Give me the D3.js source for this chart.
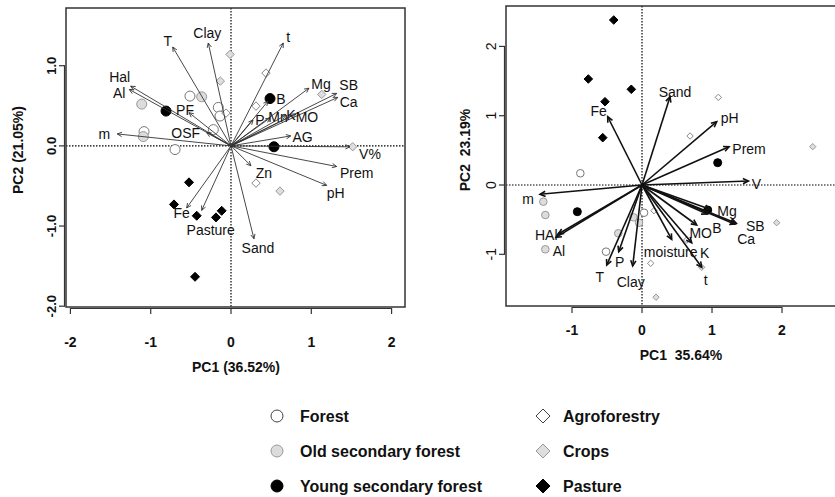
<!DOCTYPE html>
<html><head><meta charset="utf-8">
<script src="https://cdn.jsdelivr.net/npm/d3@7"></script>
<style>
body{margin:0;background:#fff}
svg{display:block;font-family:"Liberation Sans",Arial,Helvetica,sans-serif}
</style>
</head><body>
<svg id="chart" width="835" height="497"></svg>
<script>
// ---------- Panel A (PC1 36.52% / PC2 21.05%) ----------
const varsA      = ["T","Clay","Hal","Al","PF","m","OSF","t","Mg","SB","Ca","B","P","Mn","K","MO","AG","V%","Prem","pH","Zn","Sand","Fe","Pasture"];
const varsA_pc1  = [-0.726,-0.283,-1.249,-1.267,-0.523,-1.416,-0.303,0.651,0.971,1.316,1.329,0.461,0.274,0.486,0.685,0.809,0.743,1.482,1.316,1.192,0.249,0.286,-0.552,-0.365];
const varsA_pc2  = [1.233,1.283,0.745,0.704,0.414,0.149,0.165,1.283,0.720,0.655,0.605,0.559,0.323,0.348,0.385,0.398,0.124,-0.012,-0.257,-0.493,-0.248,-1.159,-0.774,-0.804];

const forestA_pc1   = [-0.511,-0.158,-0.137,-0.220,-0.697,-1.083];
const forestA_pc2   = [0.621,0.480,0.372,0.203,-0.046,0.178];
const oldSecA_pc1   = [-0.365,-1.112,-1.092];
const oldSecA_pc2   = [0.612,0.521,0.116];
const youngSecA_pc1 = [-0.809,0.486,0.535];
const youngSecA_pc2 = [0.434,0.590,-0.011];
const agroA_pc1     = [0.436,0.311,-0.062,0.311];
const agroA_pc2     = [0.908,0.496,0.409,-0.464];
const cropsA_pc1    = [-0.012,-0.133,1.130,1.516,0.610];
const cropsA_pc2    = [1.141,0.808,0.642,-0.011,-0.564];
const pastureA_pc1  = [-0.523,-0.710,-0.427,-0.187,-0.116,-0.448];
const pastureA_pc2  = [-0.455,-0.730,-0.872,-0.892,-0.810,-1.633];

const ticksA_x = [-2,-1,0,1,2];
const ticksA_y = [-2,-1,0,1];
const tickLabelsA_y = ["-2.0","-1.0","0.0","1.0"];

// ---------- Panel B (PC1 35.64% / PC2 23.19%) ----------
const varsB      = ["Fe","Sand","pH","Prem","V","Mg","SB","Ca","B","MO","K","moisture","t","Clay","P","T","HAl","Al","m"];
const varsB_pc1  = [-0.490,0.400,1.067,1.243,1.519,0.971,1.346,1.330,0.929,0.781,0.710,0.424,0.853,-0.133,-0.333,-0.504,-1.196,-1.229,-1.457];
const varsB_pc2  = [0.985,1.274,0.913,0.553,0.058,-0.351,-0.553,-0.565,-0.418,-0.577,-0.833,-0.784,-1.188,-1.169,-0.962,-1.154,-0.707,-0.755,-0.134];

const forestB_pc1   = [-0.881,-0.514,0.029];
const forestB_pc2   = [0.169,-0.962,-0.400];
const oldSecB_pc1   = [-1.410,-1.381,-1.381,-0.339,-0.124,-0.043];
const oldSecB_pc2   = [-0.241,-0.433,-0.928,-0.697,-0.466,-0.544];
const youngSecB_pc1 = [1.081,-0.924,0.939];
const youngSecB_pc2 = [0.322,-0.385,-0.361];
const agroB_pc1     = [1.090,0.686,0.124,0.638,0.171];
const agroB_pc2     = [1.265,0.707,-1.130,-0.794,-0.371];
const cropsB_pc1    = [2.439,1.924,0.200,0.853];
const cropsB_pc2    = [0.553,-0.544,-1.620,-1.188];
const pastureB_pc1  = [-0.404,-0.767,-0.153,-0.529,-0.561];
const pastureB_pc2  = [2.381,1.530,1.381,1.202,0.683];

const ticksB_x = [-1,0,1,2];
const ticksB_y = [-1,0,1,2];

// ---------- Legend ----------
const groups = ["Forest","Old secondary forest","Young secondary forest","Agroforestry","Crops","Pasture"];

// ---------- layout / styles ----------
const labelOffsetA = {
  "T":[-5,-6],"Clay":[-1,-10],"Hal":[-11,-9],"Al":[-10,4],"PF":[-4,-3],"m":[-13,0],"OSF":[-21,0],
  "t":[5,-6],"Mg":[12,-4],"SB":[12,-8],"Ca":[11,5],"B":[13,-2],"P":[7,0],"Mn":[8,-1],"K":[5,0],
  "MO":[11,3],"AG":[12,1],"V%":[20,7],"Prem":[20,7],"pH":[9,8],"Zn":[13,7],"Sand":[4,9],"Fe":[-5,5],"Pasture":[9,20]
};
const labelOffsetB = {
  "Fe":[-9,-6],"Sand":[5,-5],"pH":[13,-4],"Prem":[20,2],"V":[8,3],"Mg":[17,2],"SB":[19,3],"Ca":[11,15],
  "B":[10,14],"MO":[4,8],"K":[13,10],"moisture":[-1,13],"t":[4,13],"Clay":[-2,16],"P":[1,10],"T":[-7,12],
  "HAl":[-12,1],"Al":[3,14],"m":[-12,5]
};

const svg = d3.select("#chart");

const styles = {
  forest:   {shape:"circle", fill:"#ffffff", stroke:"#777"},
  oldSec:   {shape:"circle", fill:"#dcdcdc", stroke:"#999"},
  youngSec: {shape:"circle", fill:"#000",    stroke:"#000"},
  agro:     {shape:"diamond",fill:"#ffffff", stroke:"#888"},
  crops:    {shape:"diamond",fill:"#dedede", stroke:"#999"},
  pasture:  {shape:"diamond",fill:"#000",    stroke:"#000"}
};

function diamondPath(cx, cy, r){
  return `M${cx},${cy-r}L${cx+r},${cy}L${cx},${cy+r}L${cx-r},${cy}Z`;
}

function drawPoints(g, xs, ys, x, y, st, size){
  const pts = xs.map((v,i)=>({x:v,y:ys[i]}));
  if (st.shape === "circle"){
    g.selectAll(null).data(pts).join("circle")
      .attr("cx",d=>x(d.x)).attr("cy",d=>y(d.y))
      .attr("r", st.fill === "#000" ? size.cb : size.c)
      .attr("fill",st.fill).attr("stroke",st.stroke).attr("stroke-width",1);
  } else {
    g.selectAll(null).data(pts).join("path")
      .attr("d",d=>diamondPath(x(d.x),y(d.y), st.fill === "#000" ? size.db : size.d))
      .attr("fill",st.fill).attr("stroke",st.stroke).attr("stroke-width",1);
  }
}

function drawArrows(g, names, pc1, pc2, x, y, offsets, opt){
  const ox = x(0), oy = y(0);
  names.forEach((n,i)=>{
    const tx = x(pc1[i]), ty = y(pc2[i]);
    g.append("line").attr("x1",ox).attr("y1",oy).attr("x2",tx).attr("y2",ty)
      .attr("stroke",opt.color).attr("stroke-width",opt.width);
    const a = Math.atan2(ty-oy, tx-ox);
    const L = opt.head, s = Math.PI/7;
    g.append("path")
      .attr("d",`M${tx-L*Math.cos(a-s)},${ty-L*Math.sin(a-s)}L${tx},${ty}L${tx-L*Math.cos(a+s)},${ty-L*Math.sin(a+s)}`)
      .attr("fill","none").attr("stroke",opt.color).attr("stroke-width",opt.width);
    const off = offsets[n] || [0,0];
    g.append("text").attr("x",tx+off[0]).attr("y",ty+off[1])
      .attr("text-anchor","middle").attr("dominant-baseline","central")
      .attr("font-size",14).attr("fill","#111").text(n);
  });
}

function panel(cfg){
  const g = svg.append("g");
  const x = d3.scaleLinear().domain(cfg.xDom).range([cfg.left, cfg.right]);
  const y = d3.scaleLinear().domain(cfg.yDom).range([cfg.bottom, cfg.top]);

  const clipId = "clip"+cfg.id;
  svg.append("clipPath").attr("id",clipId).append("rect")
    .attr("x",cfg.left).attr("y",cfg.top).attr("width",cfg.right-cfg.left).attr("height",cfg.bottom-cfg.top);
  const inner = g.append("g").attr("clip-path",`url(#${clipId})`);

  // zero reference lines
  inner.append("line").attr("x1",cfg.left).attr("x2",cfg.right).attr("y1",y(0)).attr("y2",y(0))
    .attr("stroke","#000").attr("stroke-width",1.2).attr("stroke-dasharray","1.5,1.5");
  inner.append("line").attr("y1",cfg.top).attr("y2",cfg.bottom).attr("x1",x(0)).attr("x2",x(0))
    .attr("stroke","#000").attr("stroke-width",1.2).attr("stroke-dasharray","1.5,1.5");

  cfg.points.forEach(p => drawPoints(inner, p.xs, p.ys, x, y, styles[p.style], cfg.size));
  drawArrows(inner, cfg.vars, cfg.pc1, cfg.pc2, x, y, cfg.offsets, cfg.arrow);

  // frame
  g.append("rect").attr("x",cfg.left).attr("y",cfg.top)
    .attr("width",cfg.right-cfg.left).attr("height",cfg.bottom-cfg.top)
    .attr("fill","none").attr("stroke","#333").attr("stroke-width",1.5);

  // x axis
  const xa = g.append("g");
  xa.append("line").attr("x1",x(cfg.xTicks[0])).attr("x2",x(cfg.xTicks[cfg.xTicks.length-1]))
    .attr("y1",cfg.bottom+1.5).attr("y2",cfg.bottom+1.5).attr("stroke","#333").attr("stroke-width",1.2);
  cfg.xTicks.forEach(t=>{
    xa.append("line").attr("x1",x(t)).attr("x2",x(t)).attr("y1",cfg.bottom+1).attr("y2",cfg.bottom+7)
      .attr("stroke","#333").attr("stroke-width",1.2);
    xa.append("text").attr("x",x(t)).attr("y",cfg.xLabelY).attr("text-anchor","middle")
      .attr("dominant-baseline","central").attr("font-size",14).attr("font-weight","bold").attr("fill","#111")
      .text(t);
  });
  // y axis
  const ya = g.append("g");
  ya.append("line").attr("y1",y(cfg.yTicks[0])).attr("y2",y(cfg.yTicks[cfg.yTicks.length-1]))
    .attr("x1",cfg.left-1.5).attr("x2",cfg.left-1.5).attr("stroke","#333").attr("stroke-width",1.2);
  cfg.yTicks.forEach((t,i)=>{
    ya.append("line").attr("y1",y(t)).attr("y2",y(t)).attr("x1",cfg.left-1).attr("x2",cfg.left-7)
      .attr("stroke","#333").attr("stroke-width",1.2);
    ya.append("text").attr("transform",`translate(${cfg.yLabelX},${y(t)}) rotate(-90)`)
      .attr("text-anchor","middle").attr("dominant-baseline","central")
      .attr("font-size",cfg.yTickSize).attr("font-weight",cfg.yTickWeight).attr("fill","#111")
      .text(cfg.yTickLabels ? cfg.yTickLabels[i] : t);
  });
  // titles
  g.append("text").attr("x",cfg.xTitle[0]).attr("y",cfg.xTitle[1]).attr("text-anchor","middle")
    .attr("dominant-baseline","central").attr("font-size",14).attr("font-weight","bold").attr("fill","#111")
    .attr("xml:space","preserve").text(cfg.xTitle[2]);
  g.append("text").attr("transform",`translate(${cfg.yTitle[0]},${cfg.yTitle[1]}) rotate(-90)`)
    .attr("text-anchor","middle").attr("dominant-baseline","central")
    .attr("font-size",14).attr("font-weight","bold").attr("fill","#111")
    .attr("xml:space","preserve").text(cfg.yTitle[2]);
}

panel({
  id:"A", left:66, right:405, top:8, bottom:307,
  xDom:[-2.055,2.167], yDom:[-2.01,1.72],
  xTicks:ticksA_x, yTicks:ticksA_y, yTickLabels:tickLabelsA_y,
  xLabelY:342, yLabelX:51, yTickSize:13, yTickWeight:"bold",
  xTitle:[236,367,"PC1 (36.52%)"], yTitle:[18,150,"PC2 (21.05%)"],
  vars:varsA, pc1:varsA_pc1, pc2:varsA_pc2, offsets:labelOffsetA,
  arrow:{color:"#333", width:0.9, head:5},
  size:{c:5, cb:5, d:4.2, db:4.5},
  points:[
    {xs:forestA_pc1, ys:forestA_pc2, style:"forest"},
    {xs:oldSecA_pc1, ys:oldSecA_pc2, style:"oldSec"},
    {xs:agroA_pc1, ys:agroA_pc2, style:"agro"},
    {xs:cropsA_pc1, ys:cropsA_pc2, style:"crops"},
    {xs:pastureA_pc1, ys:pastureA_pc2, style:"pasture"},
    {xs:youngSecA_pc1, ys:youngSecA_pc2, style:"youngSec"}
  ]
});

panel({
  id:"B", left:506, right:846, top:6, bottom:306,
  xDom:[-1.943,2.914], yDom:[-1.746,2.583],
  xTicks:ticksB_x, yTicks:ticksB_y,
  xLabelY:330, yLabelX:491, yTickSize:14, yTickWeight:"normal",
  xTitle:[681,355,"PC1  35.64%"], yTitle:[465,150,"PC2  23.19%"],
  vars:varsB, pc1:varsB_pc1, pc2:varsB_pc2, offsets:labelOffsetB,
  arrow:{color:"#111", width:1.6, head:6},
  size:{c:3.8, cb:4, d:3.2, db:4.3},
  points:[
    {xs:forestB_pc1, ys:forestB_pc2, style:"forest"},
    {xs:oldSecB_pc1, ys:oldSecB_pc2, style:"oldSec"},
    {xs:agroB_pc1, ys:agroB_pc2, style:"agro"},
    {xs:cropsB_pc1, ys:cropsB_pc2, style:"crops"},
    {xs:pastureB_pc1, ys:pastureB_pc2, style:"pasture"},
    {xs:youngSecB_pc1, ys:youngSecB_pc2, style:"youngSec"}
  ]
});

// legend: two columns of three entries
const legendStyle = ["forest","oldSec","youngSec","agro","crops","pasture"];
const legend = svg.append("g");
groups.forEach((name,i)=>{
  const col = Math.floor(i/3), row = i%3;
  const sx = col === 0 ? 277 : 543, tx = col === 0 ? 300 : 563;
  const cy = [416,451,486][row];
  const st = styles[legendStyle[i]];
  if (st.shape === "circle"){
    legend.append("circle").attr("cx",sx).attr("cy",cy).attr("r",6)
      .attr("fill",st.fill).attr("stroke", st.fill === "#ffffff" ? "#444" : st.stroke).attr("stroke-width",1);
  } else {
    legend.append("path").attr("d",diamondPath(sx,cy,7))
      .attr("fill",st.fill).attr("stroke", st.fill === "#ffffff" ? "#444" : st.stroke).attr("stroke-width",1);
  }
  legend.append("text").attr("x",tx).attr("y",cy).attr("dominant-baseline","central")
    .attr("font-size",16).attr("font-weight","bold").attr("fill","#111").text(name);
});
</script>
</body></html>
